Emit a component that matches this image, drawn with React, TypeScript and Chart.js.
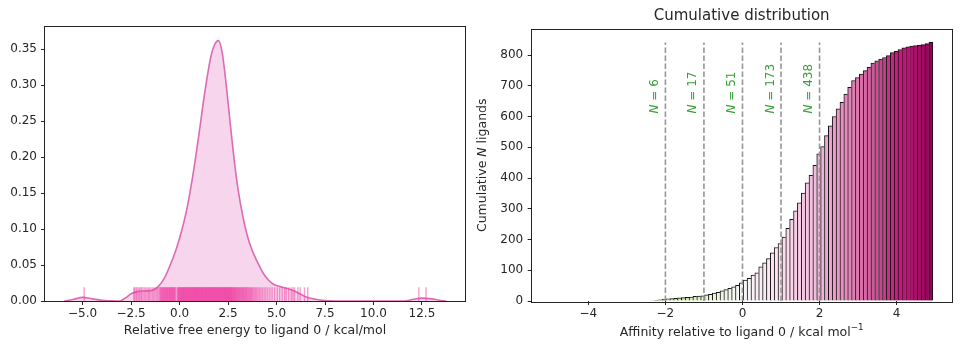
import { useEffect, useRef } from 'react';
import { Chart, registerables } from 'chart.js';

Chart.register(...registerables);

const FONT = "'DejaVu Sans', Verdana, sans-serif";
const TEXT = '#262626';
const AXIS = '#222222';

// ---------------- left panel: KDE + rug ----------------
const KDE_X = [-5.95, -5.5, -5.0, -4.5, -4.0, -3.5, -3.1, -2.8, -2.5, -2.2, -1.8, -1.4, -1.1, -0.8, -0.5, -0.2, 0.1, 0.4, 0.7, 1.0, 1.3, 1.6, 1.8, 2.0, 2.2, 2.4, 2.6, 2.8, 3.0, 3.3, 3.6, 4.0, 4.4, 4.8, 5.2, 5.6, 6.0, 6.5, 7.0, 7.5, 8.0, 11.6, 12.0, 12.5, 13.0, 13.4, 13.75];
const KDE_Y = [0, 0.002, 0.005, 0.003, 0.001, 0.0003, 0, 0.004, 0.01, 0.013, 0.014, 0.015, 0.02, 0.031, 0.049, 0.07, 0.097, 0.131, 0.177, 0.232, 0.29, 0.338, 0.356, 0.362, 0.345, 0.302, 0.25, 0.2, 0.158, 0.113, 0.081, 0.055, 0.035, 0.024, 0.02, 0.017, 0.013, 0.006, 0.0025, 0.0006, 0, 0, 0.002, 0.004, 0.003, 0.001, 0];
const RUG_VALUES = [
  -4.92,
  -2.36, -2.31, -2.24, -2.19, -2.11, -2.05, -1.98, -1.93, -1.84, -1.77, -1.69, -1.61, -1.55, -1.47, -1.38, -1.31, -1.22, -1.15, -1.07,
  -1.01, -0.98, -0.94, -0.91, -0.87, -0.85, -0.82, -0.78, -0.76, -0.72, -0.69, -0.66, -0.63, -0.6, -0.57, -0.53, -0.51, -0.48,
  -0.45, -0.41, -0.39, -0.36, -0.33, -0.3, -0.27, -0.24, -0.21, -0.13, -0.09, -0.06, -0.04, -0.01, 0.02, 0.04, 0.07, 0.09,
  0.11, 0.14, 0.16, 0.19, 0.21, 0.23, 0.26, 0.28, 0.3, 0.33, 0.35, 0.37, 0.4, 0.42, 0.44, 0.47, 0.49, 0.51, 0.54, 0.56, 0.58,
  0.61, 0.63, 0.65, 0.68, 0.7, 0.72, 0.75, 0.77, 0.79, 0.82, 0.84, 0.86, 0.89, 0.91, 0.93, 0.96, 0.98, 1.0, 1.03, 1.05, 1.07,
  1.1, 1.12, 1.14, 1.17, 1.19, 1.21, 1.24, 1.26, 1.28, 1.31, 1.33, 1.35, 1.38, 1.4, 1.42, 1.45, 1.47, 1.49, 1.52, 1.54, 1.56,
  1.59, 1.61, 1.63, 1.66, 1.68, 1.7, 1.73, 1.75, 1.77, 1.8, 1.82, 1.84, 1.87, 1.89, 1.91, 1.94, 1.96, 1.98, 2.01, 2.03, 2.05,
  2.08, 2.1, 2.12, 2.15, 2.17, 2.19, 2.22, 2.24, 2.26, 2.29, 2.31, 2.33, 2.36, 2.38, 2.4, 2.43, 2.45, 2.47, 2.5, 2.52, 2.54,
  2.57, 2.59, 2.61, 2.64, 2.66, 2.68, 2.71, 2.73, 2.76, 2.79, 2.81, 2.84, 2.87, 2.9, 2.93, 2.96, 2.99, 3.02, 3.06, 3.09, 3.12,
  3.16, 3.19, 3.23, 3.26, 3.3, 3.33, 3.37, 3.41, 3.44, 3.48, 3.52, 3.56, 3.61, 3.65, 3.7, 3.74, 3.79, 3.85, 3.91, 3.97, 4.04,
  4.11, 4.19, 4.27, 4.36, 4.45, 4.55, 4.66, 4.77, 4.9, 5.04, 5.16, 5.29, 5.42, 5.5, 5.63, 5.76, 5.85, 5.93, 6.1, 6.22, 6.44, 6.61,
  12.34, 12.71,
];
const LEFT_X_TICKS = [-5, -2.5, 0, 2.5, 5, 7.5, 10, 12.5];
const LEFT_Y_TICKS = [0, 0.05, 0.1, 0.15, 0.2, 0.25, 0.3, 0.35];
const LEFT_X_LABEL = 'Relative free energy to ligand 0 / kcal/mol';

// ---------------- right panel: cumulative histogram ----------------
const BIN_START = -2.39;
const BIN_WIDTH = 0.1004;
const CUMULATIVE_COUNTS = [
  1, 2, 4, 6, 7, 8, 9, 10, 11, 12,
  13, 15, 16, 17, 20, 22, 26, 28, 33, 37,
  41, 46, 51, 59, 68, 74, 84, 92, 111, 124,
  138, 157, 174, 187, 208, 236, 266, 293, 319, 351,
  384, 409, 441, 479, 502, 538, 570, 600, 625, 646,
  673, 695, 717, 727, 738, 749, 760, 774, 781, 787,
  792, 798, 808, 812, 818, 823, 827, 829, 831, 832,
  834, 837, 841,
];
const THRESHOLDS = [-2, -1, 0, 1, 2];
const THRESHOLD_COUNTS = [6, 17, 51, 173, 438];
const RIGHT_X_TICKS = [-4, -2, 0, 2, 4];
const RIGHT_Y_TICKS = [0, 100, 200, 300, 400, 500, 600, 700, 800];
const RIGHT_TITLE = 'Cumulative distribution';
const RIGHT_X_LABEL = 'Affinity relative to ligand 0 / kcal mol';
const RIGHT_X_LABEL_SUP = '\u22121';
const LABEL_ANCHOR_COUNT = 610;

const PIYG = ['#8e0152', '#c51b7d', '#de77ae', '#f1b6da', '#fde0ef', '#f7f7f7', '#e6f5d0', '#b8e186', '#7fbc41', '#4d9221', '#276419'];

function hexToRgb(h: string) {
  const n = parseInt(h.slice(1), 16);
  return [(n >> 16) & 255, (n >> 8) & 255, n & 255];
}
function piyg(t: number) {
  const c = Math.max(0, Math.min(1, t)) * (PIYG.length - 1);
  const i = Math.min(PIYG.length - 2, Math.floor(c));
  const f = c - i;
  const a = hexToRgb(PIYG[i]);
  const b = hexToRgb(PIYG[i + 1]);
  return `rgb(${a.map((v, k) => Math.round(v + (b[k] - v) * f)).join(',')})`;
}
const fmt = (v: number, d: number) => v.toFixed(d).replace('-', '\u2212');

type Part = { text: string; italic?: boolean; sup?: boolean };
function drawParts(ctx: any, parts: Part[], x: number, y: number, o: { size: number; color: string; rotate?: boolean; align: 'center' | 'left'; baseline?: string }) {
  ctx.save();
  ctx.translate(x, y);
  if (o.rotate) ctx.rotate(-Math.PI / 2);
  ctx.fillStyle = o.color;
  ctx.textBaseline = o.baseline || 'middle';
  ctx.textAlign = 'left';
  const fontFor = (p: Part) => `${p.italic ? 'italic ' : ''}${p.sup ? o.size * 0.7 : o.size}px ${FONT}`;
  let total = 0;
  const widths = parts.map((p) => {
    ctx.font = fontFor(p);
    const w = ctx.measureText(p.text).width;
    total += w;
    return w;
  });
  let cx = o.align === 'center' ? -total / 2 : 0;
  parts.forEach((p, i) => {
    ctx.font = fontFor(p);
    ctx.fillText(p.text, cx, p.sup ? -o.size * 0.42 : 0);
    cx += widths[i];
  });
  ctx.restore();
}

function drawFrame(chart: any) {
  const { ctx, chartArea: a } = chart;
  ctx.save();
  ctx.strokeStyle = AXIS;
  ctx.lineWidth = 1;
  ctx.strokeRect(Math.round(a.left) - 0.5, Math.round(a.top) - 0.5, Math.round(a.right - a.left) + 1, Math.round(a.bottom - a.top) + 1);
  ctx.restore();
}

const axisCommon = (size: number) => ({
  grid: { drawOnChartArea: false, drawTicks: true, tickLength: 4, tickColor: AXIS, tickWidth: 1 },
  border: { display: false },
  ticks: { font: { family: FONT, size }, color: TEXT, autoSkip: false, maxRotation: 0, minRotation: 0 },
});

const leftPlugin = {
  id: 'leftDecor',
  afterDatasetsDraw(chart: any) {
    const { ctx, chartArea: a, scales } = chart;
    const h = (a.bottom - a.top) * 0.05;
    ctx.save();
    ctx.beginPath();
    ctx.rect(a.left, a.top, a.right - a.left, a.bottom - a.top);
    ctx.clip();
    ctx.strokeStyle = 'rgba(240, 60, 160, 0.5)';
    ctx.lineWidth = 1.4;
    RUG_VALUES.forEach((v) => {
      const px = scales.x.getPixelForValue(v);
      ctx.beginPath();
      ctx.moveTo(px, a.bottom);
      ctx.lineTo(px, a.bottom - h);
      ctx.stroke();
    });
    ctx.restore();
  },
  afterDraw(chart: any) {
    const { ctx, chartArea: a } = chart;
    drawFrame(chart);
    drawParts(ctx, [{ text: LEFT_X_LABEL }], (a.left + a.right) / 2, 331, { size: 12.5, color: TEXT, align: 'center' });
  },
};

const rightPlugin = {
  id: 'rightDecor',
  afterDatasetsDraw(chart: any) {
    const { ctx, scales } = chart;
    THRESHOLDS.forEach((t, i) => {
      const px = scales.x.getPixelForValue(t);
      const py = scales.y.getPixelForValue(LABEL_ANCHOR_COUNT);
      drawParts(ctx, [{ text: 'N', italic: true }, { text: ` = ${THRESHOLD_COUNTS[i]}` }], px - 7.5, py, {
        size: 12, color: '#35a035', rotate: true, align: 'left', baseline: 'alphabetic',
      });
    });
  },
  afterDraw(chart: any) {
    const { ctx, chartArea: a } = chart;
    drawFrame(chart);
    const cx = (a.left + a.right) / 2;
    drawParts(ctx, [{ text: RIGHT_TITLE }], cx, 16.5, { size: 15, color: TEXT, align: 'center' });
    drawParts(ctx, [{ text: RIGHT_X_LABEL }, { text: RIGHT_X_LABEL_SUP, sup: true }], cx, 333, { size: 12.5, color: TEXT, align: 'center' });
    drawParts(ctx, [{ text: 'Cumulative ' }, { text: 'N', italic: true }, { text: ' ligands' }], 13, (a.top + a.bottom) / 2, {
      size: 12.5, color: TEXT, rotate: true, align: 'center',
    });
  },
};

export default function App() {
  const leftRef = useRef<HTMLCanvasElement>(null);
  const rightRef = useRef<HTMLCanvasElement>(null);

  useEffect(() => {
    document.body.style.margin = '0';
    const leftAxis = axisCommon(12);
    const left = new Chart(leftRef.current as HTMLCanvasElement, {
      type: 'line',
      data: {
        datasets: [
          {
            data: KDE_X.map((x, i) => ({ x, y: KDE_Y[i] })),
            borderColor: '#db6cb3',
            borderWidth: 1.6,
            backgroundColor: 'rgba(227,119,194,0.3)',
            fill: 'origin',
            pointRadius: 0,
            cubicInterpolationMode: 'monotone',
          } as any,
        ],
      },
      options: {
        responsive: false,
        animation: false,
        devicePixelRatio: 1,
        layout: { padding: { left: 0, right: 5, top: 27, bottom: 0 } },
        plugins: { legend: { display: false }, tooltip: { enabled: false }, title: { display: false } },
        scales: {
          x: {
            type: 'linear', min: -6.94, max: 14.72,
            ...leftAxis,
            ticks: { ...leftAxis.ticks, padding: 2, callback: (v: any) => fmt(Number(v), 1) },
            afterBuildTicks: (s: any) => { s.ticks = LEFT_X_TICKS.map((value) => ({ value })); },
            afterFit: (s: any) => { s.height = 55; },
          },
          y: {
            type: 'linear', min: 0, max: 0.381,
            ...leftAxis,
            ticks: { ...leftAxis.ticks, padding: 4, callback: (v: any) => fmt(Number(v), 2) },
            afterBuildTicks: (s: any) => { s.ticks = LEFT_Y_TICKS.map((value) => ({ value })); },
            afterFit: (s: any) => { s.width = 45; },
          },
        },
      } as any,
      plugins: [leftPlugin],
    });

    const centers = CUMULATIVE_COUNTS.map((_, i) => BIN_START + (i + 0.5) * BIN_WIDTH);
    const last = CUMULATIVE_COUNTS.length - 1;
    const lineTop = Math.max(...CUMULATIVE_COUNTS);
    const rightAxis = axisCommon(12);
    const right = new Chart(rightRef.current as HTMLCanvasElement, {
      type: 'bar',
      data: {
        datasets: [
          ...THRESHOLDS.map((t) => ({
            type: 'line',
            data: [{ x: t, y: 0 }, { x: t, y: lineTop }],
            borderColor: '#969696',
            borderWidth: 1.6,
            borderDash: [5.5, 2.5],
            pointRadius: 0,
            fill: false,
            order: 0,
          })),
          {
            type: 'bar',
            data: centers.map((x, i) => ({ x, y: CUMULATIVE_COUNTS[i] })),
            backgroundColor: centers.map((x) => piyg(1 - (x + 5) / 10)),
            borderColor: '#141414',
            borderWidth: (c: any) => ({ top: 1, left: 1, right: c.dataIndex === last ? 1 : 0, bottom: 0 }),
            borderSkipped: 'start',
            barPercentage: 1,
            categoryPercentage: 1,
            order: 1,
          },
        ] as any,
      },
      options: {
        responsive: false,
        animation: false,
        devicePixelRatio: 1,
        layout: { padding: { left: 0, right: 8.3, top: 29.5, bottom: 0 } },
        plugins: { legend: { display: false }, tooltip: { enabled: false }, title: { display: false } },
        scales: {
          x: {
            type: 'linear', min: -5.47, max: 5.43, offset: false,
            ...rightAxis,
            grid: { ...rightAxis.grid, offset: false },
            ticks: { ...rightAxis.ticks, padding: 2, callback: (v: any) => fmt(Number(v), 0) },
            afterBuildTicks: (s: any) => { s.ticks = RIGHT_X_TICKS.map((value) => ({ value })); },
            afterFit: (s: any) => { s.height = 55; },
          },
          y: {
            type: 'linear', min: 0, max: 883,
            ...rightAxis,
            ticks: { ...rightAxis.ticks, padding: 4.5, callback: (v: any) => String(v) },
            afterBuildTicks: (s: any) => { s.ticks = RIGHT_Y_TICKS.map((value) => ({ value })); },
            afterFit: (s: any) => { s.width = 61.7; },
          },
        },
      } as any,
      plugins: [rightPlugin],
    });

    return () => {
      left.destroy();
      right.destroy();
    };
  }, []);

  return (
    <div style={{ position: 'relative', width: 960, height: 356, background: '#ffffff' }}>
      <canvas ref={leftRef} width={470} height={356} style={{ position: 'absolute', left: 0, top: 0 }} />
      <canvas ref={rightRef} width={490} height={356} style={{ position: 'absolute', left: 470, top: 0 }} />
    </div>
  );
}
